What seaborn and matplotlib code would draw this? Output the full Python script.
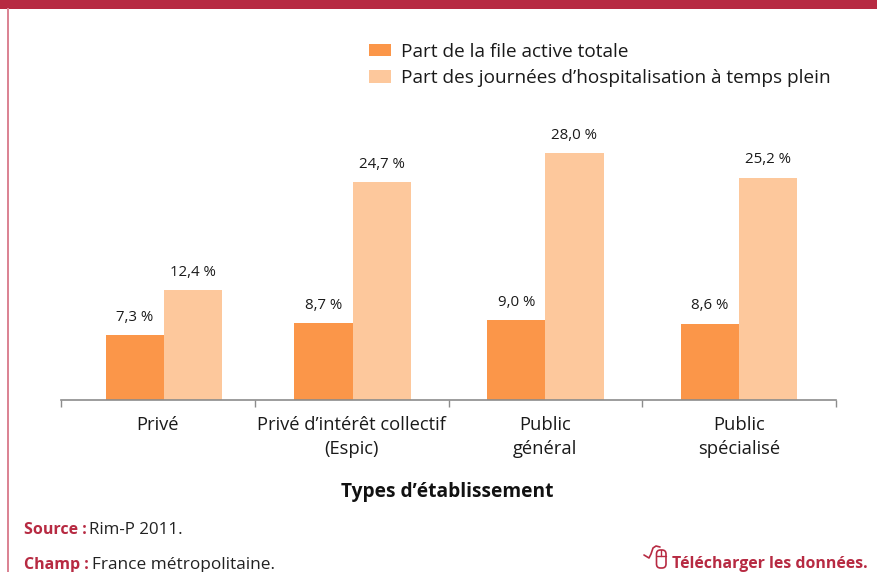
import matplotlib
matplotlib.use("Agg")
import matplotlib.pyplot as plt
import seaborn as sns
import pandas as pd
from matplotlib.patches import FancyBboxPatch, Rectangle
from matplotlib.lines import Line2D

categories = ["Privé", "Privé d’intérêt collectif\n(Espic)", "Public\ngénéral", "Public\nspécialisé"]
part_file = [7.3, 8.7, 9.0, 8.6]
part_jours = [12.4, 24.7, 28.0, 25.2]
series = ["Part de la file active totale", "Part des journées d’hospitalisation à temps plein"]
colors = ["#FB9649", "#FDC89C"]
crimson = "#B72A42"

sns.set_theme(style="white")
plt.rcParams["font.family"] = ["Open Sans", "DejaVu Sans"]

W, H = 877, 572
df = pd.DataFrame({
    "cat": categories * 2,
    "serie": [series[0]] * 4 + [series[1]] * 4,
    "val": part_file + part_jours,
})

fig = plt.figure(figsize=(W / 100, H / 100), dpi=100, facecolor="white")
ax = fig.add_axes([61 / W, 1 - 399.5 / H, (836 - 61) / W, 264 / H])
sns.barplot(data=df, x="cat", y="val", hue="serie", hue_order=series, palette=colors,
            saturation=1, width=0.6, gap=0, dodge=True, legend=False, ax=ax, linewidth=0)
ax.set_ylim(0, 30)
ax.set_xlim(-0.5, 3.5)
ax.set_xlabel("")
ax.set_ylabel("")
ax.set_yticks([])
for s in ["top", "left", "right"]:
    ax.spines[s].set_visible(False)
ax.spines["bottom"].set_color("#8c8c8c")
ax.spines["bottom"].set_linewidth(1.2)

ax.set_xticks([-0.5, 0.5, 1.5, 2.5, 3.5])
ax.set_xticklabels([])
ax.set_xticks([0, 1, 2, 3], minor=True)
ax.set_xticklabels(categories, minor=True, fontsize=13.2, color="#1a1a1a", linespacing=1.42)
ax.tick_params(axis="x", which="major", length=5, width=1, color="#8c8c8c", bottom=True)
ax.tick_params(axis="x", which="minor", length=0, pad=12, bottom=False)

# small per-group layout nudge (groups are not perfectly centred in the reference)
group_nudge = [0.031, 0.005, 0, 0]
for cont in ax.containers:
    for bar, dx in zip(cont, group_nudge):
        bar.set_x(bar.get_x() + dx)

for cont, vals in zip(ax.containers, [part_file, part_jours]):
    labs = [f"{v:.1f}".replace(".", ",") + " %" for v in vals]
    ax.bar_label(cont, labels=labs, padding=7.5, fontsize=10.8, color="#1a1a1a")

# Legend
handles = [Rectangle((0, 0), 1, 1, color=c, lw=0) for c in colors]
fig.legend(handles, series, loc="upper left", bbox_to_anchor=(361.5 / W, 1 - 35 / H), frameon=False,
           fontsize=13.7, handlelength=1.16, handleheight=0.63, handletextpad=0.53,
           labelspacing=0.45, labelcolor="#1a1a1a", borderaxespad=0, borderpad=0.4)

# Page decoration in pixel coordinates
ov = fig.add_axes([0, 0, 1, 1], zorder=5)
ov.set_xlim(0, W)
ov.set_ylim(H, 0)
ov.axis("off")
ov.add_patch(Rectangle((0, 0), W, 8.5, color=crimson, lw=0))
ov.add_patch(Rectangle((7, 8), 1.5, H - 8, color="#DB8494", lw=0))

ov.text(447, 491.5, "Types d’établissement", ha="center", va="center", fontsize=13.8,
        fontweight="bold", color="#111111")
ov.text(24, 529.5, "Source :", ha="left", va="center", fontsize=11.5, fontweight="bold", color=crimson)
ov.text(89, 529.5, "Rim-P 2011.", ha="left", va="center", fontsize=12.2, color="#222222")
ov.text(24, 565, "Champ :", ha="left", va="center", fontsize=11.5, fontweight="bold", color=crimson)
ov.text(92, 565, "France métropolitaine.", ha="left", va="center", fontsize=12.4, color="#222222")
ov.text(672, 563.5, "Télécharger les données.", ha="left", va="center", fontsize=11.4,
        fontweight="bold", color=crimson)

# Mouse icon
ov.add_patch(FancyBboxPatch((656.5, 550), 9.5, 18, boxstyle="round,pad=0,rounding_size=4",
                            fc="none", ec=crimson, lw=1.2))
ov.add_line(Line2D([656.5, 666], [556, 556], color=crimson, lw=1))
ov.add_line(Line2D([661.2, 661.2], [550, 556], color=crimson, lw=1))
ov.add_line(Line2D([644, 649, 651, 653, 656, 660], [555, 558, 554, 548, 546, 547], color=crimson, lw=1.2))

fig.savefig("out.png", dpi=100, facecolor="white")
